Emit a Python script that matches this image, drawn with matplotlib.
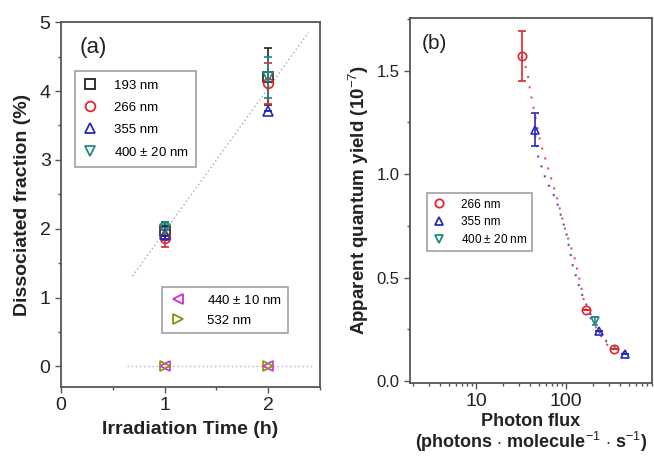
import matplotlib
matplotlib.use("Agg")
import matplotlib.pyplot as plt
from matplotlib.lines import Line2D
from matplotlib.ticker import MultipleLocator, LogLocator, NullFormatter, FixedLocator, FormatStrFormatter

plt.rcParams['font.family'] = ['Liberation Sans', 'DejaVu Sans']
plt.rcParams['mathtext.fontset'] = 'custom'
plt.rcParams['mathtext.rm'] = 'Liberation Sans'
plt.rcParams['mathtext.bf'] = 'Liberation Sans:bold'

# ---------- Panel (a) data ----------
time_h = [1, 2]
frac_193 = [1.97, 4.21]
err_193 = [0.12, 0.42]
frac_266 = [1.86, 4.11]
err_266 = [0.12, 0.30]
frac_355 = [1.93, 3.71]
err_355 = [0.10, 0.0]
frac_400 = [2.00, 4.20]
err_400 = [0.10, 0.30]
frac_440 = [0.0, 0.0]
frac_532 = [0.0, 0.0]
fit_a_x = [0.69, 2.39]
fit_a_y = [1.31, 4.85]
zero_x = [0.64, 2.43]
zero_y = [0.0, 0.0]
labels_a1 = ['193 nm', '266 nm', '355 nm', '400 $\\pm$ 20 nm']
labels_a2 = ['440 $\\pm$ 10 nm', '532 nm']

# ---------- Panel (b) data ----------
flux_266 = [32, 166, 337]
qy_266 = [1.57, 0.342, 0.154]
qerr_266 = [0.12, 0.0, 0.0]
flux_355 = [44.6, 230, 456]
qy_355 = [1.215, 0.24, 0.13]
qerr_355 = [0.08, 0.0, 0.0]
flux_400 = [208]
qy_400 = [0.29]
qerr_400 = [0.02]
fit_red_x = [32, 37, 40, 52, 80, 95, 125, 146, 166, 275, 337]
fit_red_y = [1.57, 1.50, 1.40, 1.15, 0.88, 0.75, 0.59, 0.46, 0.34, 0.18, 0.154]
fit_blue_x = [44.6, 49, 60, 77, 100, 119, 146, 197, 230, 282, 456]
fit_blue_y = [1.215, 1.085, 0.97, 0.88, 0.72, 0.555, 0.43, 0.30, 0.24, 0.19, 0.13]
labels_b = ['266 nm', '355 nm', '400 $\\pm$ 20 nm']

C_BLACK = '#222222'
C_RED = '#e0262b'
C_BLUE = '#2a2ab8'
C_TEAL = '#1f8a80'
C_MAG = '#d42ad4'
C_OLIVE = '#8c8c10'
SPINE = '#555555'
TXT = '#222222'

fig = plt.figure(figsize=(6.54, 4.62), dpi=100)
axa = fig.add_axes([0.0933, 0.1623, 0.3957, 0.7897])
axb = fig.add_axes([0.627, 0.171, 0.370, 0.790])

def proxy(marker, color, ms):
    return Line2D([], [], ls='none', marker=marker, mfc='none', mec=color, ms=ms, mew=1.3)

# Panel (a)
axa.plot(fit_a_x, fit_a_y, ls=(0, (1, 2)), color='#aaaaaa', lw=1)
axa.plot(zero_x, zero_y, ls=(0, (1, 2)), color='#c8a8c8', lw=1)
ms = 7
series_a = [(frac_193, err_193, 's', C_BLACK), (frac_266, err_266, 'o', C_RED),
            (frac_355, err_355, '^', C_BLUE), (frac_400, err_400, 'v', C_TEAL)]
for vals, errs, mk, col in series_a:
    axa.errorbar(time_h, vals, yerr=errs, fmt=mk, mfc='none', mec=col, ecolor=col,
                 ms=ms, mew=1.2, capsize=3, elinewidth=1.2)
axa.plot(time_h, frac_440, '<', mfc='none', mec=C_MAG, ms=ms, mew=1.2)
axa.plot(time_h, frac_532, '>', mfc='none', mec=C_OLIVE, ms=ms, mew=1.2)

axa.set_xlim(0, 2.5)
axa.set_ylim(-0.3, 5)
axa.xaxis.set_major_locator(FixedLocator([0, 1, 2]))
axa.xaxis.set_minor_locator(MultipleLocator(0.5))
axa.yaxis.set_major_locator(MultipleLocator(1))
axa.yaxis.set_minor_locator(MultipleLocator(0.5))
axa.tick_params(which='major', direction='out', length=4, width=1, colors=SPINE, labelsize=14, labelcolor=TXT)
axa.tick_params(which='minor', direction='out', length=2.5, width=1, colors=SPINE)
for s in axa.spines.values():
    s.set_color(SPINE); s.set_linewidth(1.3)
axa.set_xlabel('Irradiation Time (h)', fontsize=14, fontweight='bold', color=TXT, labelpad=5)
axa.set_ylabel('Dissociated fraction (%)', fontsize=14, fontweight='bold', color=TXT, labelpad=6)
axa.text(0.07, 0.93, '(a)', transform=axa.transAxes, fontsize=16, va='center', color=TXT)

h1 = [proxy(m, c, ms) for (_, _, m, c) in series_a]
leg1 = axa.legend(h1, labels_a1, loc='upper left', bbox_to_anchor=(0.055, 0.865), fontsize=9.5,
                  frameon=True, fancybox=False, edgecolor='#888888', handletextpad=1.3,
                  borderpad=0.6, labelspacing=0.75, handlelength=1.0, borderaxespad=0)
leg1.get_frame().set_linewidth(1.2)
axa.add_artist(leg1)
h2 = [proxy('<', C_MAG, ms), proxy('>', C_OLIVE, ms)]
leg2 = axa.legend(h2, labels_a2, loc='upper left', bbox_to_anchor=(0.39, 0.274), fontsize=9.5,
                  frameon=True, fancybox=False, edgecolor='#888888', handletextpad=1.4,
                  borderpad=0.5, labelspacing=0.6, handlelength=1.5, borderaxespad=0)
leg2.get_frame().set_linewidth(1.2)

# Panel (b)
axb.plot(fit_red_x, fit_red_y, ls=(0, (1, 4)), color=C_RED, lw=1.5, alpha=0.8)
axb.plot(fit_blue_x, fit_blue_y, ls=(2.5, (1, 4)), color=C_BLUE, lw=1.5, alpha=0.8)
axb.errorbar(flux_266, qy_266, yerr=qerr_266, fmt='o', mfc='none', mec=C_RED, ecolor=C_RED,
             ms=6, mew=1.2, capsize=3, elinewidth=1.2)
axb.errorbar(flux_355, qy_355, yerr=qerr_355, fmt='^', mfc='none', mec=C_BLUE, ecolor=C_BLUE,
             ms=6, mew=1.2, capsize=3, elinewidth=1.2)
axb.errorbar(flux_400, qy_400, yerr=qerr_400, fmt='v', mfc='none', mec=C_TEAL, ecolor=C_TEAL,
             ms=6, mew=1.2, capsize=2, elinewidth=1.2)
axb.set_xscale('log')
axb.set_xlim(1.85, 900)
axb.set_ylim(-0.01, 1.755)
axb.xaxis.set_major_locator(FixedLocator([10, 100]))
axb.xaxis.set_minor_locator(LogLocator(base=10, subs=range(2, 10)))
axb.xaxis.set_minor_formatter(NullFormatter())
axb.set_xticklabels(['10', '100'])
axb.yaxis.set_major_locator(MultipleLocator(0.5))
axb.yaxis.set_minor_locator(MultipleLocator(0.25))
axb.yaxis.set_major_formatter(FormatStrFormatter('%.1f'))
axb.tick_params(which='major', direction='out', length=4, width=1, colors=SPINE, labelsize=12, labelcolor=TXT)
axb.tick_params(axis='x', which='major', labelsize=14)
axb.tick_params(which='minor', direction='out', length=2.5, width=1, colors=SPINE)
for s in axb.spines.values():
    s.set_color(SPINE); s.set_linewidth(1.3)
axb.set_xlabel('Photon flux\n(photons $\\cdot$ molecule$^{-1}$ $\\cdot$ s$^{-1}$)', fontsize=13,
               fontweight='bold', color=TXT, linespacing=1.0, labelpad=2)
axb.set_ylabel('Apparent quantum yield (10$^{-7}$)', fontsize=13.5, fontweight='bold', color=TXT)
axb.text(0.05, 0.93, '(b)', transform=axb.transAxes, fontsize=15, va='center', color=TXT)
hb = [proxy('o', C_RED, 6), proxy('^', C_BLUE, 6), proxy('v', C_TEAL, 6)]
legb = axb.legend(hb, labels_b, loc='upper left', bbox_to_anchor=(0.07, 0.52), fontsize=8.5,
                  frameon=True, fancybox=False, edgecolor='#888888', handletextpad=1.2,
                  borderpad=0.45, labelspacing=0.45, handlelength=1.2, borderaxespad=0)
legb.get_frame().set_linewidth(1.2)

fig.savefig('out.png', dpi=100)
